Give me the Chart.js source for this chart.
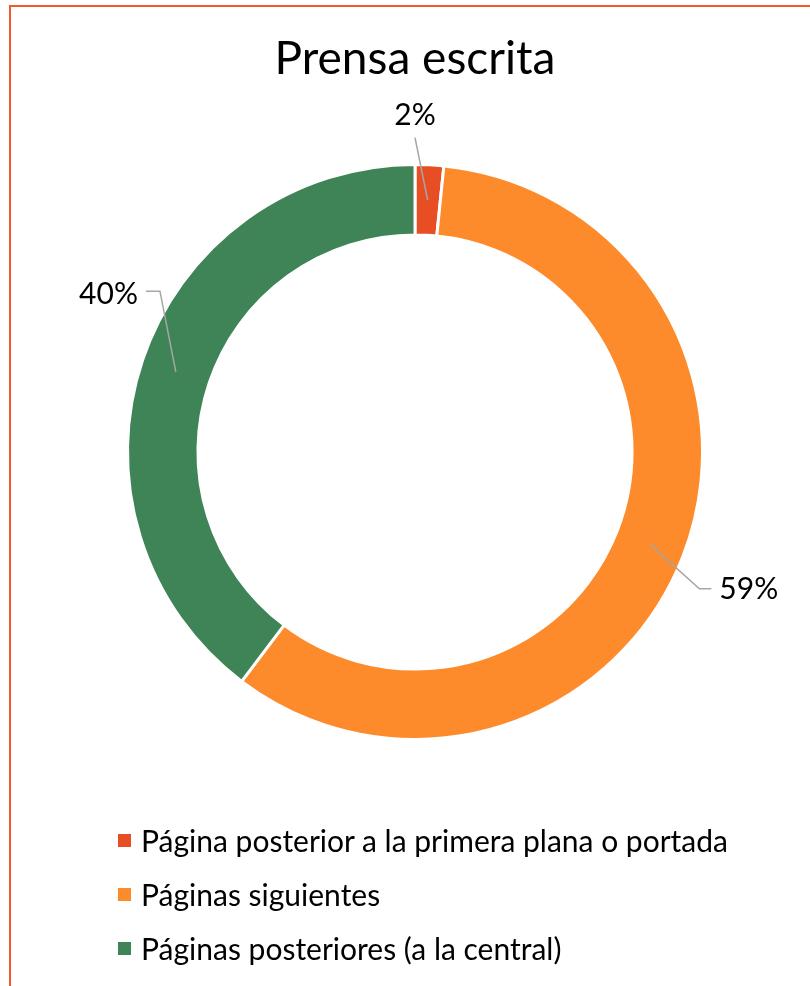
<!DOCTYPE html>
<html>
<head>
<meta charset="utf-8">
<script src="https://cdn.jsdelivr.net/npm/chart.js@4.4.1/dist/chart.umd.min.js"></script>
<style>
  html, body { margin: 0; padding: 0; background: #fff; }
  #wrap { position: relative; width: 810px; height: 986px; overflow: hidden; }
  #frame { position: absolute; left: 9px; top: 5px; right: -10px; bottom: -10px;
           border-top: 2px solid #F2592A; border-left: 2px solid #F2592A; }
  #cv { position: absolute; left: 0; top: 0; }
  #legend { position: absolute; left: 118px; top: 813px; font-family: Lato, "Open Sans", sans-serif;
            font-size: 30px; color: #000; }
  .item { height: 54px; display: flex; align-items: center; white-space: nowrap; }
  .sw { width: 13px; height: 13px; margin-right: 10px; flex: none; }
</style>
</head>
<body>
<div id="wrap">
  <div id="frame"></div>
  <canvas id="cv" width="810" height="986"></canvas>
  <div id="legend"></div>
</div>
<script>
const title = "Prensa escrita";
const categories = [
  "Página posterior a la primera plana o portada",
  "Páginas siguientes",
  "Páginas posteriores (a la central)"
];
const values = [1.6, 58.7, 39.7];
const colors = ["#E84E24", "#FD8A2B", "#3E8456"];

// label placement (relative to centre, in units of outer radius) and leader style
const labelPlacement = [
  { dx: 0, dy: -1.170, kind: "top" },
  { dx: 1.161, dy: 0.479, kind: "right" },
  { dx: -1.066, dy: -0.549, kind: "left" }
];

const total = values.reduce((a, b) => a + b, 0);

const leaderLabels = {
  id: "leaderLabels",
  afterDatasetsDraw(chart) {
    const ctx = chart.ctx;
    const meta = chart.getDatasetMeta(0);
    ctx.save();
    ctx.font = "30px Lato, 'Open Sans', sans-serif";
    ctx.textAlign = "center";
    ctx.textBaseline = "middle";
    meta.data.forEach((arc, i) => {
      const p = arc.getProps(["x", "y", "startAngle", "endAngle", "innerRadius", "outerRadius"], true);
      const mid = (p.startAngle + p.endAngle) / 2;
      const rm = (p.innerRadius + p.outerRadius) / 2;
      const mx = p.x + Math.cos(mid) * rm;
      const my = p.y + Math.sin(mid) * rm;
      const R = p.outerRadius;
      const pl = labelPlacement[i];
      const tx = p.x + pl.dx * R;
      const ty = p.y + pl.dy * R;
      const txt = Math.round(values[i] / total * 100) + "%";
      const w = ctx.measureText(txt).width;
      ctx.strokeStyle = "#A6A6A6";
      ctx.lineWidth = 1.5;
      ctx.beginPath();
      if (pl.kind === "top") {
        ctx.moveTo(tx, ty + 22);
        ctx.lineTo(mx, my);
      } else if (pl.kind === "left") {
        const x0 = tx + w / 2 + 8;
        ctx.moveTo(x0, ty - 3);
        ctx.lineTo(x0 + 14, ty - 3);
        ctx.lineTo(mx, my);
      } else {
        const x0 = tx - w / 2 - 8;
        ctx.moveTo(x0, ty - 1);
        ctx.lineTo(x0 - 12, ty - 1);
        ctx.lineTo(mx, my);
      }
      ctx.stroke();
      ctx.fillStyle = "#000";
      ctx.fillText(txt, tx, ty);
    });
    ctx.restore();
  }
};

new Chart(document.getElementById("cv"), {
  type: "doughnut",
  data: {
    labels: categories,
    datasets: [{
      data: values,
      backgroundColor: colors,
      borderColor: "#ffffff",
      borderWidth: 3,
      hoverOffset: 0
    }]
  },
  options: {
    responsive: false,
    animation: false,
    cutout: "75.5%",
    layout: { padding: { top: 32, left: 126, right: 106, bottom: 245 } },
    plugins: {
      legend: { display: false },
      tooltip: { enabled: false },
      title: {
        display: true,
        text: title,
        color: "#000",
        font: { family: "Lato, 'Open Sans', sans-serif", size: 46, weight: "normal" },
        padding: { top: 0, bottom: 75.8 }
      }
    }
  },
  plugins: [leaderLabels]
});

const lg = document.getElementById("legend");
categories.forEach((c, i) => {
  const row = document.createElement("div");
  row.className = "item";
  const sw = document.createElement("span");
  sw.className = "sw";
  sw.style.background = colors[i];
  const t = document.createElement("span");
  t.textContent = c;
  row.appendChild(sw);
  row.appendChild(t);
  lg.appendChild(row);
});
</script>
</body>
</html>
